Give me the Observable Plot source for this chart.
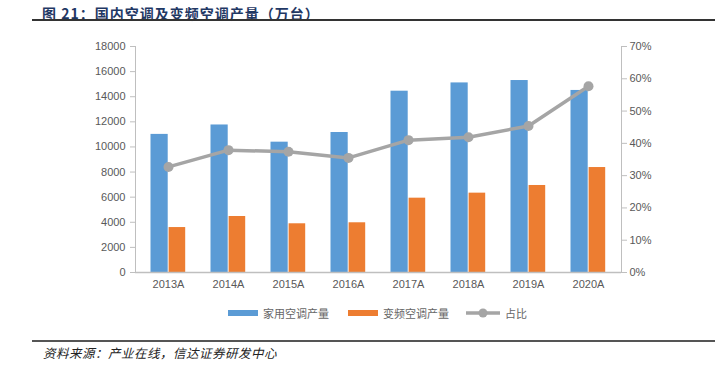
<!DOCTYPE html>
<html><head><meta charset="utf-8">
<script src="https://cdn.jsdelivr.net/npm/d3@7"></script>
<script src="https://cdn.jsdelivr.net/npm/@observablehq/plot@0.6"></script>
<style>
body{margin:0;background:#fff;}
#wrap{position:relative;width:719px;height:368px;overflow:hidden;font-family:"Liberation Sans",Arial,sans-serif;}
#title{position:absolute;left:42px;top:3px;font:bold 14px "Noto Sans CJK SC",sans-serif;color:#1f3864;letter-spacing:1px;white-space:nowrap;}
#tline{position:absolute;left:32px;top:19px;width:683px;height:0;border-top:2px solid #333;}
#chart{position:absolute;left:0;top:30px;}
#legend{position:absolute;left:0;top:305px;width:719px;height:16px;font:11px "Noto Sans CJK SC",serif;color:#666;}
.li{position:absolute;top:0;display:flex;align-items:center;height:16px;white-space:nowrap;}
#fline{position:absolute;left:32px;top:340px;width:683px;height:0;border-top:2px solid #555;}
#source{position:absolute;left:43px;top:343px;font:italic 12.5px "Noto Sans CJK SC",serif;color:#222;letter-spacing:0.5px;white-space:nowrap;}
</style></head>
<body>
<div id="wrap">
<div id="title">图 21：国内空调及变频空调产量（万台）</div>
<div id="tline"></div>
<div id="chart"></div>
<div id="legend"></div>
<div id="fline"></div>
<div id="source">资料来源：产业在线，信达证券研发中心</div>
</div>
<script>
const years = ["2013A","2014A","2015A","2016A","2017A","2018A","2019A","2020A"];
const household = [11000, 11750, 10380, 11150, 14440, 15100, 15290, 14500];
const inverter = [3580, 4460, 3880, 3960, 5920, 6320, 6930, 8360];
const ratio = [32.7, 37.9, 37.4, 35.5, 41.0, 41.9, 45.4, 57.7];
const leftTicks = [0,2000,4000,6000,8000,10000,12000,14000,16000,18000];
const rightTicks = [0,10,20,30,40,50,60,70];
const seriesNames = ["家用空调产量","变频空调产量","占比"];
const colors = ["#5b9bd5","#ed7d31","#a5a5a5"];

const LMAX = 18000, RMAX = 70;
const toLeft = p => p * LMAX / RMAX;

const rows = years.map((y,i)=>({year:y, household:household[i], inverter:inverter[i], ratio:ratio[i], r:toLeft(ratio[i])}));

const chart = Plot.plot({
  width: 719, height: 270,
  marginLeft: 135, marginRight: 98, marginTop: 16, marginBottom: 28,
  style: {fontFamily: '"Liberation Sans", Arial, sans-serif', fontSize: "11px", color: "#595959", background: "transparent"},
  x: {domain: years, padding: 0, label: null},
  y: {domain: [0, LMAX], label: null},
  marks: [
    Plot.barY(rows, {x: "year", y: "household", fill: colors[0], insetLeft: 12.5, insetRight: 30.3}),
    Plot.barY(rows, {x: "year", y: "inverter", fill: colors[1], insetLeft: 30.6, insetRight: 12.8}),
    Plot.ruleY([0], {stroke: "#bfbfbf", strokeWidth: 1.5}),
    Plot.frame({anchor: "left", stroke: "#bfbfbf"}),
    Plot.frame({anchor: "right", stroke: "#bfbfbf"}),
    Plot.axisY({anchor: "left", ticks: leftTicks, tickSize: 5, tickPadding: 5, stroke: "#bfbfbf", fill: "#595959", tickFormat: d => String(d), label: null}),
    Plot.axisY({anchor: "right", ticks: rightTicks.map(toLeft), tickSize: 5, tickPadding: 3, stroke: "#bfbfbf", fill: "#595959", tickFormat: d => Math.round(d * RMAX / LMAX) + "%", label: null}),
    Plot.axisX({tickSize: 0, tickPadding: 8, fill: "#595959", label: null}),
    Plot.line(rows, {x: "year", y: "r", stroke: colors[2], strokeWidth: 3.5}),
    Plot.dot(rows, {x: "year", y: "r", r: 5, fill: colors[2], stroke: "none"})
  ]
});
document.getElementById("chart").appendChild(chart);

const legend = document.getElementById("legend");
const items = [
  {x: 228, kind: "bar", c: colors[0], t: seriesNames[0]},
  {x: 348, kind: "bar", c: colors[1], t: seriesNames[1]},
  {x: 466, kind: "line", c: colors[2], t: seriesNames[2]}
];
items.forEach(it => {
  const d = document.createElement("div");
  d.className = "li";
  d.style.left = it.x + "px";
  const sw = it.kind === "bar"
    ? `<svg width="30" height="8"><rect x="0" y="1" width="30" height="6" fill="${it.c}"/></svg>`
    : `<svg width="34" height="10"><line x1="0" y1="5" x2="34" y2="5" stroke="${it.c}" stroke-width="3.5"/><circle cx="17" cy="5" r="4.5" fill="${it.c}"/></svg>`;
  d.innerHTML = sw + `<span style="margin-left:5px">${it.t}</span>`;
  legend.appendChild(d);
});
</script>
</body></html>
